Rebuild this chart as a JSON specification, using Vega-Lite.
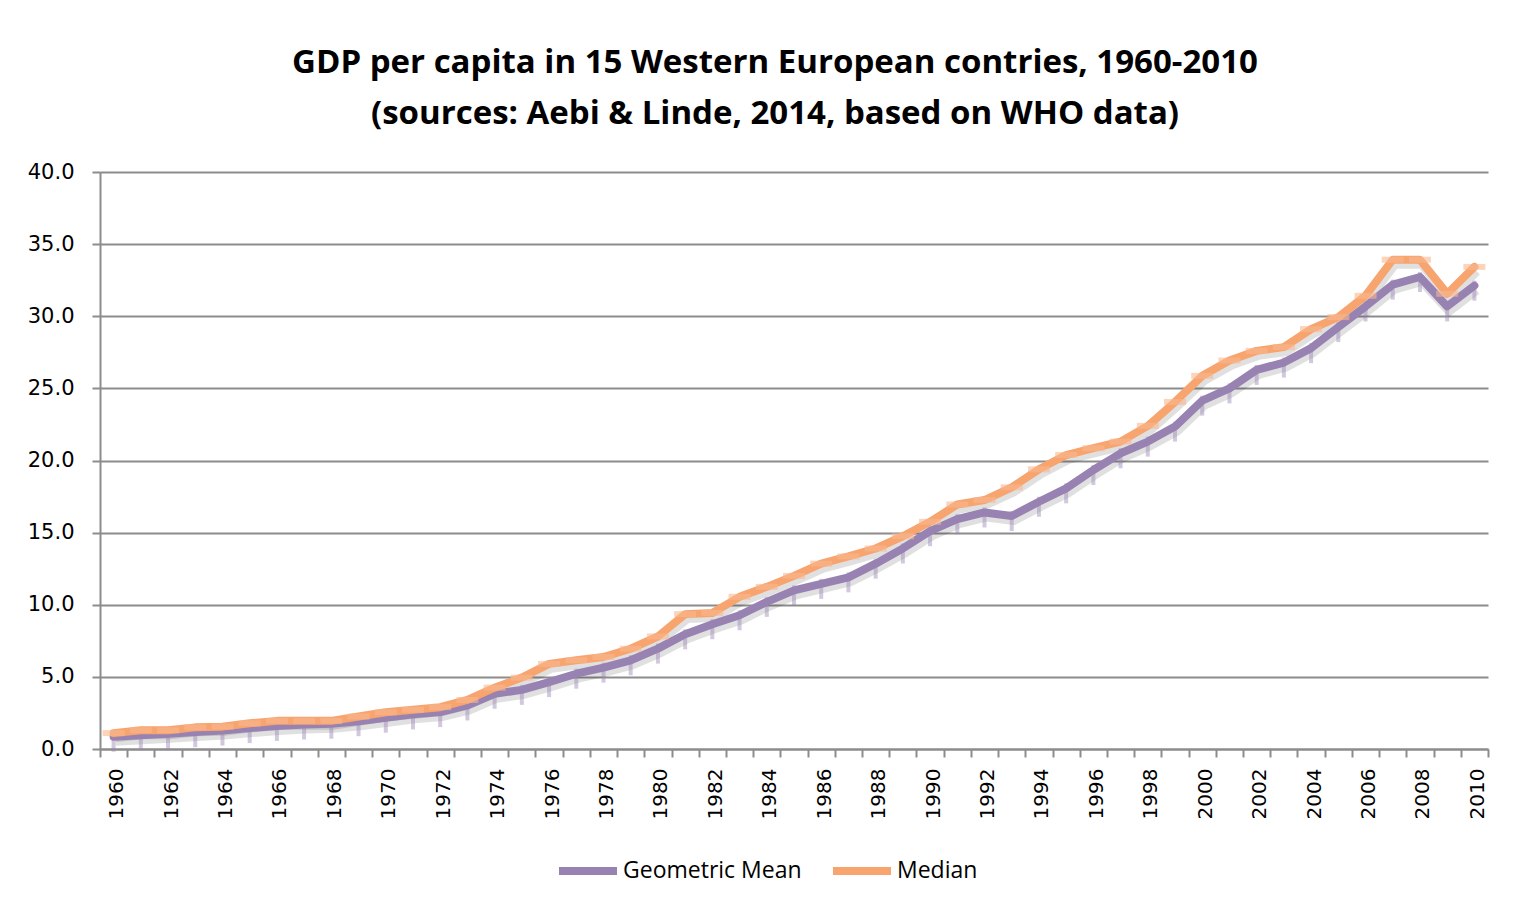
{
  "$schema": "https://vega.github.io/schema/vega-lite/v6.json",
  "autosize": {"type": "none"},
  "width": 1388,
  "height": 577,
  "padding": {"left": 100, "top": 172, "right": 28, "bottom": 162},
  "background": "white",
  "title": {
    "text": ["GDP per capita in 15 Western European contries, 1960-2010", "(sources: Aebi & Linde, 2014, based on WHO data)"],
    "font": "Open Sans",
    "fontWeight": "bold",
    "fontSize": 33,
    "lineHeight": 51,
    "color": "#000000",
    "anchor": "middle",
    "dx": -19,
    "offset": 30
  },
  "data": {"values": [
    {"year": 1960, "series": "Geometric Mean", "value": 0.85}, {"year": 1960, "series": "Median", "value": 1.10},
    {"year": 1961, "series": "Geometric Mean", "value": 0.95}, {"year": 1961, "series": "Median", "value": 1.30},
    {"year": 1962, "series": "Geometric Mean", "value": 1.05}, {"year": 1962, "series": "Median", "value": 1.30},
    {"year": 1963, "series": "Geometric Mean", "value": 1.17}, {"year": 1963, "series": "Median", "value": 1.50},
    {"year": 1964, "series": "Geometric Mean", "value": 1.28}, {"year": 1964, "series": "Median", "value": 1.55},
    {"year": 1965, "series": "Geometric Mean", "value": 1.45}, {"year": 1965, "series": "Median", "value": 1.78},
    {"year": 1966, "series": "Geometric Mean", "value": 1.60}, {"year": 1966, "series": "Median", "value": 1.95},
    {"year": 1967, "series": "Geometric Mean", "value": 1.70}, {"year": 1967, "series": "Median", "value": 1.95},
    {"year": 1968, "series": "Geometric Mean", "value": 1.75}, {"year": 1968, "series": "Median", "value": 1.95},
    {"year": 1969, "series": "Geometric Mean", "value": 1.93}, {"year": 1969, "series": "Median", "value": 2.25},
    {"year": 1970, "series": "Geometric Mean", "value": 2.17}, {"year": 1970, "series": "Median", "value": 2.55},
    {"year": 1971, "series": "Geometric Mean", "value": 2.40}, {"year": 1971, "series": "Median", "value": 2.72},
    {"year": 1972, "series": "Geometric Mean", "value": 2.56}, {"year": 1972, "series": "Median", "value": 2.90},
    {"year": 1973, "series": "Geometric Mean", "value": 3.02}, {"year": 1973, "series": "Median", "value": 3.40},
    {"year": 1974, "series": "Geometric Mean", "value": 3.83}, {"year": 1974, "series": "Median", "value": 4.25},
    {"year": 1975, "series": "Geometric Mean", "value": 4.10}, {"year": 1975, "series": "Median", "value": 4.95},
    {"year": 1976, "series": "Geometric Mean", "value": 4.64}, {"year": 1976, "series": "Median", "value": 5.90},
    {"year": 1977, "series": "Geometric Mean", "value": 5.22}, {"year": 1977, "series": "Median", "value": 6.15},
    {"year": 1978, "series": "Geometric Mean", "value": 5.64}, {"year": 1978, "series": "Median", "value": 6.38},
    {"year": 1979, "series": "Geometric Mean", "value": 6.15}, {"year": 1979, "series": "Median", "value": 6.95},
    {"year": 1980, "series": "Geometric Mean", "value": 6.96}, {"year": 1980, "series": "Median", "value": 7.80},
    {"year": 1981, "series": "Geometric Mean", "value": 7.95}, {"year": 1981, "series": "Median", "value": 9.35},
    {"year": 1982, "series": "Geometric Mean", "value": 8.65}, {"year": 1982, "series": "Median", "value": 9.43},
    {"year": 1983, "series": "Geometric Mean", "value": 9.27}, {"year": 1983, "series": "Median", "value": 10.55},
    {"year": 1984, "series": "Geometric Mean", "value": 10.20}, {"year": 1984, "series": "Median", "value": 11.24},
    {"year": 1985, "series": "Geometric Mean", "value": 11.00}, {"year": 1985, "series": "Median", "value": 12.00},
    {"year": 1986, "series": "Geometric Mean", "value": 11.45}, {"year": 1986, "series": "Median", "value": 12.85},
    {"year": 1987, "series": "Geometric Mean", "value": 11.90}, {"year": 1987, "series": "Median", "value": 13.35},
    {"year": 1988, "series": "Geometric Mean", "value": 12.85}, {"year": 1988, "series": "Median", "value": 13.90},
    {"year": 1989, "series": "Geometric Mean", "value": 13.90}, {"year": 1989, "series": "Median", "value": 14.75},
    {"year": 1990, "series": "Geometric Mean", "value": 15.10}, {"year": 1990, "series": "Median", "value": 15.75},
    {"year": 1991, "series": "Geometric Mean", "value": 15.93}, {"year": 1991, "series": "Median", "value": 16.95},
    {"year": 1992, "series": "Geometric Mean", "value": 16.40}, {"year": 1992, "series": "Median", "value": 17.26},
    {"year": 1993, "series": "Geometric Mean", "value": 16.15}, {"year": 1993, "series": "Median", "value": 18.14},
    {"year": 1994, "series": "Geometric Mean", "value": 17.14}, {"year": 1994, "series": "Median", "value": 19.39},
    {"year": 1995, "series": "Geometric Mean", "value": 18.07}, {"year": 1995, "series": "Median", "value": 20.38},
    {"year": 1996, "series": "Geometric Mean", "value": 19.34}, {"year": 1996, "series": "Median", "value": 20.85},
    {"year": 1997, "series": "Geometric Mean", "value": 20.50}, {"year": 1997, "series": "Median", "value": 21.31},
    {"year": 1998, "series": "Geometric Mean", "value": 21.31}, {"year": 1998, "series": "Median", "value": 22.40},
    {"year": 1999, "series": "Geometric Mean", "value": 22.35}, {"year": 1999, "series": "Median", "value": 24.06},
    {"year": 2000, "series": "Geometric Mean", "value": 24.15}, {"year": 2000, "series": "Median", "value": 25.87},
    {"year": 2001, "series": "Geometric Mean", "value": 25.00}, {"year": 2001, "series": "Median", "value": 26.93},
    {"year": 2002, "series": "Geometric Mean", "value": 26.28}, {"year": 2002, "series": "Median", "value": 27.60},
    {"year": 2003, "series": "Geometric Mean", "value": 26.79}, {"year": 2003, "series": "Median", "value": 27.86},
    {"year": 2004, "series": "Geometric Mean", "value": 27.79}, {"year": 2004, "series": "Median", "value": 29.11},
    {"year": 2005, "series": "Geometric Mean", "value": 29.25}, {"year": 2005, "series": "Median", "value": 29.94},
    {"year": 2006, "series": "Geometric Mean", "value": 30.68}, {"year": 2006, "series": "Median", "value": 31.42},
    {"year": 2007, "series": "Geometric Mean", "value": 32.19}, {"year": 2007, "series": "Median", "value": 33.92},
    {"year": 2008, "series": "Geometric Mean", "value": 32.72}, {"year": 2008, "series": "Median", "value": 33.92},
    {"year": 2009, "series": "Geometric Mean", "value": 30.68}, {"year": 2009, "series": "Median", "value": 31.56},
    {"year": 2010, "series": "Geometric Mean", "value": 32.12}, {"year": 2010, "series": "Median", "value": 33.42}
  ]},
  "encoding": {
    "x": {
      "field": "year",
      "type": "ordinal",
      "scale": {"type": "band", "paddingInner": 0, "paddingOuter": 0},
      "axis": {
        "title": null,
        "tickBand": "extent",
        "labelAngle": -90,
        "labelExpr": "datum.value % 2 == 0 ? datum.label : ''",
        "labelOverlap": false,
        "labelFont": "DejaVu Sans",
        "labelFontSize": 20,
        "labelColor": "#000000",
        "labelPadding": 11,
        "labelOffset": 3,
        "tickSize": 8,
        "tickWidth": 2,
        "tickColor": "#8c8c8c",
        "domainColor": "#8c8c8c",
        "domainWidth": 2,
        "grid": false
      }
    },
    "y": {
      "field": "value",
      "type": "quantitative",
      "scale": {"domain": [0, 40], "nice": false, "zero": true},
      "axis": {
        "title": null,
        "values": [0, 5, 10, 15, 20, 25, 30, 35, 40],
        "format": ".1f",
        "labelFont": "DejaVu Sans",
        "labelFontSize": 21,
        "labelColor": "#000000",
        "labelPadding": 18,
        "tickSize": 8,
        "tickWidth": 2,
        "tickColor": "#8c8c8c",
        "domainColor": "#8c8c8c",
        "domainWidth": 2,
        "grid": true,
        "gridColor": "#8c8c8c",
        "gridWidth": 2
      }
    }
  },
  "layer": [
    {
      "mark": {"type": "line", "stroke": "#000000", "strokeWidth": 10, "opacity": 0.12, "xOffset": 2, "yOffset": 4},
      "encoding": {"detail": {"field": "series"}}
    },
    {
      "transform": [{"filter": "datum.series == 'Geometric Mean'"}],
      "mark": {"type": "tick", "orient": "vertical", "color": "#9a86b6", "opacity": 0.45, "size": 20, "thickness": 4, "yOffset": 5}
    },
    {
      "mark": {"type": "line", "strokeWidth": 8, "strokeCap": "round", "strokeJoin": "round"},
      "encoding": {
        "color": {
          "field": "series",
          "type": "nominal",
          "scale": {"domain": ["Geometric Mean", "Median"], "range": ["#9782b2", "#f7a46f"]},
          "legend": {
            "title": null,
            "orient": "none",
            "legendX": 455,
            "legendY": 666,
            "direction": "horizontal",
            "symbolType": "stroke",
            "symbolSize": 3364,
            "symbolStrokeWidth": 8,
            "labelFont": "Open Sans",
            "labelFontSize": 23,
            "labelLimit": 0,
            "labelColor": "#000000",
            "labelOffset": 2,
            "columnPadding": 15
          }
        }
      }
    },
    {
      "transform": [{"filter": "datum.series == 'Median'"}],
      "mark": {"type": "tick", "orient": "horizontal", "color": "#f9b88e", "opacity": 0.6, "size": 22, "thickness": 6}
    }
  ],
  "config": {
    "view": {"stroke": null}
  }
}
